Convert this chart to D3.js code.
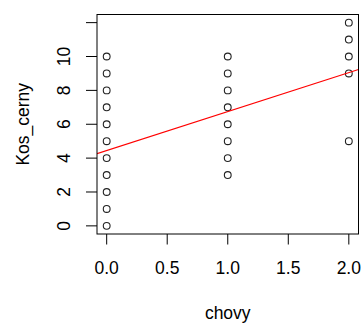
<!DOCTYPE html>
<html>
<head>
<meta charset="utf-8">
<script src="https://cdn.jsdelivr.net/npm/d3@7"></script>
<style>
  html, body { margin: 0; padding: 0; background: #fff; }
  svg { display: block; font-family: "Liberation Sans", Arial, sans-serif; }
</style>
</head>
<body>
<svg id="chart" width="362" height="325"></svg>
<script>
// Observations: chovy (x) and Kos_cerny (y)
const chovy    = [0,0,0,0,0,0,0,0,0,0,0, 1,1,1,1,1,1,1,1, 2,2,2,2,2];
const kosCerny = [0,1,2,3,4,5,6,7,8,9,10, 3,4,5,6,7,8,9,10, 5,9,10,11,12];

// Fitted line: Kos_cerny = intercept + slope * chovy
const fitIntercept = 4.45;
const fitSlope = 2.3;

const xTicks = [0, 0.5, 1, 1.5, 2];
const xTickLabels = ["0.0", "0.5", "1.0", "1.5", "2.0"];
const yTicks = [0, 2, 4, 6, 8, 10, 12];
const yTickLabels = ["0", "2", "4", "6", "8", "10", ""];

const svg = d3.select("#chart");
const box = { left: 97, right: 358.5, top: 14.5, bottom: 234 };

// R-style 4% padding on both axes
const x = d3.scaleLinear().domain([-0.08, 2.08]).range([box.left, box.right]);
const y = d3.scaleLinear().domain([-0.48, 12.48]).range([box.bottom, box.top]);

const fontSize = 17.5;

// X axis ticks and labels
const xAxis = svg.append("g").attr("transform", `translate(0,${box.bottom})`);
xAxis.selectAll("line").data(xTicks).join("line")
  .attr("x1", d => x(d)).attr("x2", d => x(d))
  .attr("y1", 0).attr("y2", 10.5)
  .attr("stroke", "#000").attr("stroke-width", 1);
xAxis.selectAll("text").data(xTicks).join("text")
  .attr("x", d => x(d)).attr("y", 40)
  .attr("text-anchor", "middle")
  .attr("font-size", fontSize)
  .attr("fill", "#000")
  .text((d, i) => xTickLabels[i]);

// Y axis ticks and labels (labels read upward)
const yAxis = svg.append("g").attr("transform", `translate(${box.left},0)`);
yAxis.selectAll("line").data(yTicks).join("line")
  .attr("x1", -11).attr("x2", 0)
  .attr("y1", d => y(d)).attr("y2", d => y(d))
  .attr("stroke", "#000").attr("stroke-width", 1);
yAxis.selectAll("text").data(yTicks).join("text")
  .attr("transform", d => `translate(-27,${y(d)}) rotate(-90)`)
  .attr("text-anchor", "middle")
  .attr("font-size", fontSize)
  .attr("fill", "#000")
  .text((d, i) => yTickLabels[i]);

// Axis titles
svg.append("text")
  .attr("x", (box.left + box.right) / 2).attr("y", 319)
  .attr("text-anchor", "middle")
  .attr("font-size", fontSize)
  .attr("fill", "#000")
  .text("chovy");
svg.append("text")
  .attr("transform", `translate(29,${(box.top + box.bottom) / 2}) rotate(-90)`)
  .attr("text-anchor", "middle")
  .attr("font-size", fontSize)
  .attr("fill", "#000")
  .text("Kos_cerny");

// Points
svg.append("g").selectAll("circle").data(chovy.map((c, i) => [c, kosCerny[i]])).join("circle")
  .attr("cx", d => x(d[0])).attr("cy", d => y(d[1]))
  .attr("r", 3.4)
  .attr("fill", "none")
  .attr("stroke", "#222").attr("stroke-width", 1.1);

// Regression line clipped to the plot region
svg.append("clipPath").attr("id", "plotClip")
  .append("rect")
  .attr("x", box.left).attr("y", box.top)
  .attr("width", box.right - box.left).attr("height", box.bottom - box.top);
const xd = x.domain();
svg.append("line")
  .attr("clip-path", "url(#plotClip)")
  .attr("x1", x(xd[0])).attr("y1", y(fitIntercept + fitSlope * xd[0]))
  .attr("x2", x(xd[1])).attr("y2", y(fitIntercept + fitSlope * xd[1]))
  .attr("stroke", "#ff0000").attr("stroke-width", 1.1);

// Plot frame
svg.append("rect")
  .attr("x", box.left).attr("y", box.top)
  .attr("width", box.right - box.left).attr("height", box.bottom - box.top)
  .attr("fill", "none").attr("stroke", "#000").attr("stroke-width", 1);
</script>
</body>
</html>
